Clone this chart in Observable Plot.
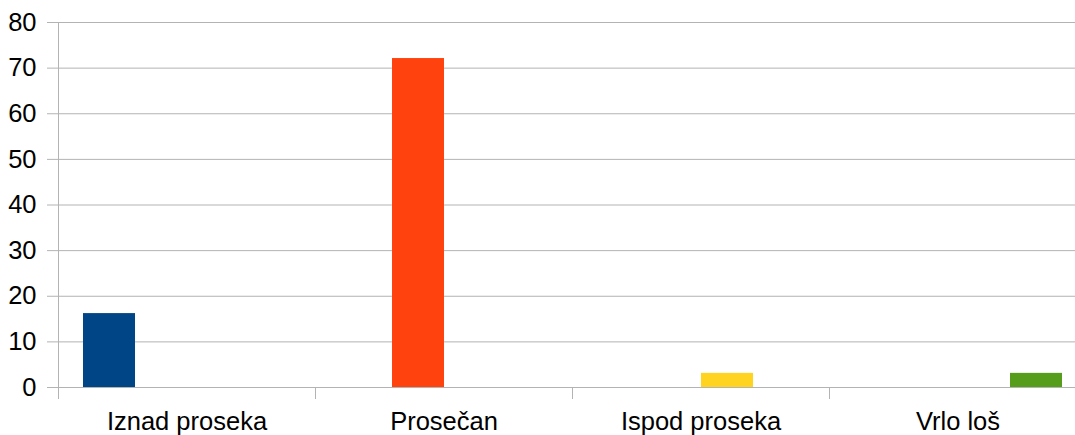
<!DOCTYPE html>
<html>
<head>
<meta charset="utf-8">
<script src="https://cdn.jsdelivr.net/npm/d3@7"></script>
<script src="https://cdn.jsdelivr.net/npm/@observablehq/plot@0.6"></script>
<style>
  html, body { margin: 0; padding: 0; background: #fff; overflow: hidden; }
  #chart svg { font-family: "Liberation Sans", Arial, sans-serif; display: block; max-width: none !important; }
</style>
</head>
<body>
<div id="chart"></div>
<script>
const categories = ["Iznad proseka", "Prosečan", "Ispod proseka", "Vrlo loš"];
const values = [16.2, 72.1, 3.1, 3.1];
const colors = ["#004586", "#ff420e", "#ffd320", "#579d1c"];
const yTicks = [0, 10, 20, 30, 40, 50, 60, 70, 80];

const data = categories.map((c, i) => ({category: c, value: values[i]}));
const grid = "#b3b3b3";

const chart = Plot.plot({
  width: 1090,
  height: 435,
  marginLeft: 58,
  marginRight: 4,
  marginTop: 22,
  marginBottom: 37,
  style: {fontFamily: "Liberation Sans, Arial, sans-serif", fontSize: "25.5px", color: "#000", background: "#fff", maxWidth: "none"},
  fx: {domain: categories, padding: 0, label: null},
  x: {domain: categories, paddingInner: 0, paddingOuter: 0.471, axis: null},
  y: {domain: [0, 80], insetBottom: 11, axis: null},
  color: {domain: categories, range: colors},
  marks: [
    Plot.ruleY(yTicks, {stroke: grid, strokeWidth: 1}),
    Plot.frame({anchor: "left", facet: "super", stroke: grid, strokeWidth: 1}),
    Plot.frame({anchor: "left", insetTop: 365, stroke: grid, strokeWidth: 1}),
    Plot.barY(data, {fx: "category", x: "category", y: "value", fill: "category", inset: 0}),
    Plot.axisY(yTicks, {anchor: "left", tickSize: 11, tickPadding: 11, stroke: grid, fill: "#000", fontSize: 25.5, label: null, tickFormat: d => d}),
    Plot.axisFx({anchor: "bottom", tickSize: 0, tickPadding: 13, fontSize: 25.5, fill: "#000", label: null})
  ]
});
document.getElementById("chart").append(chart);
</script>
</body>
</html>
